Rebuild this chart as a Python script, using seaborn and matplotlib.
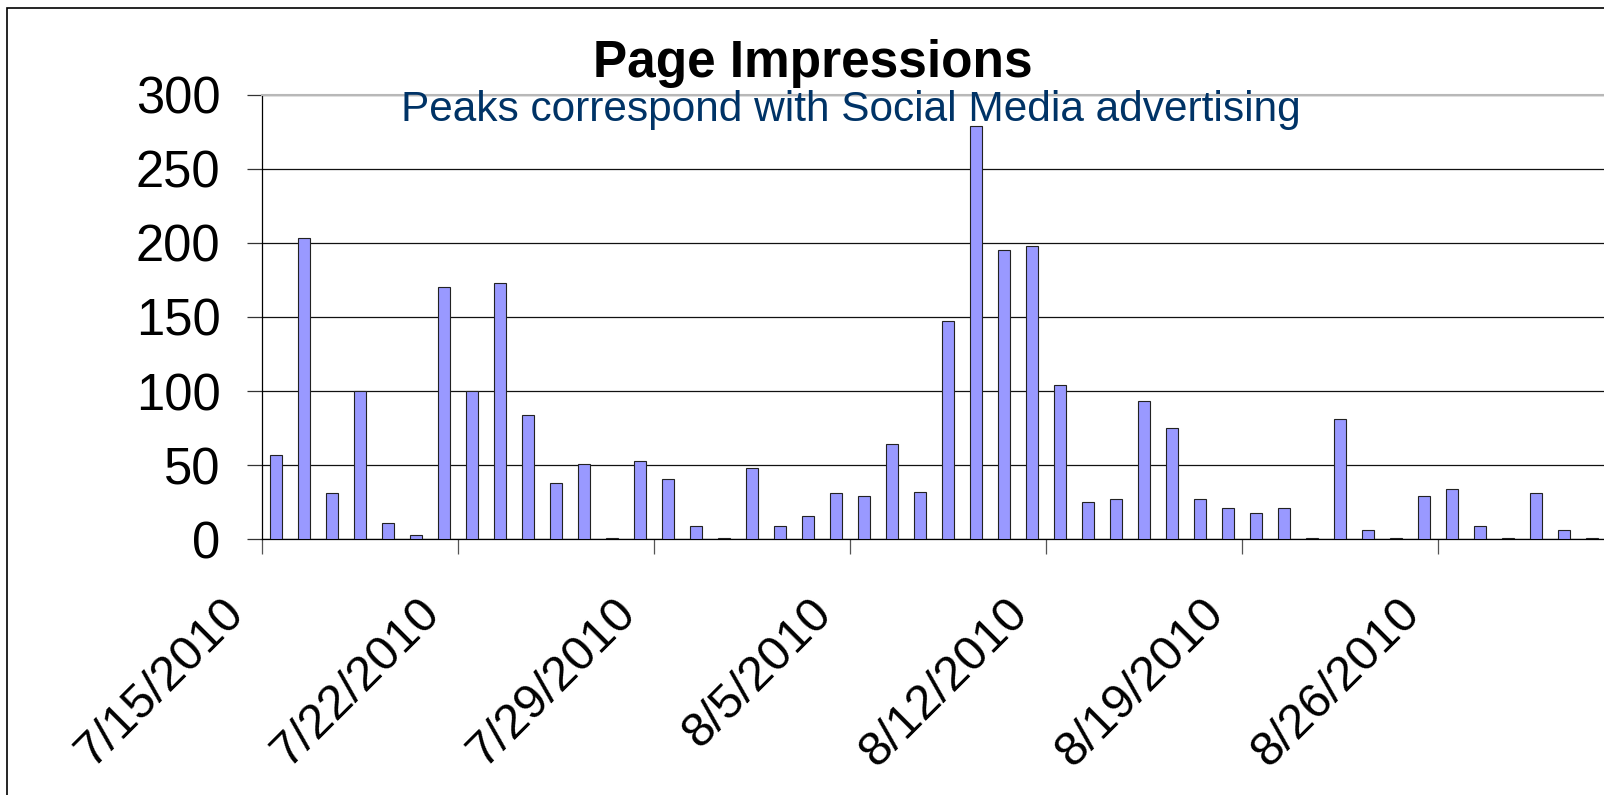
""" Page impressions bar chart, daily values July-August 2010 """
import matplotlib

matplotlib.use("Agg")
import matplotlib.pyplot as plt
import matplotlib.transforms as mtransforms
from matplotlib.patches import Rectangle
import pandas as pd
import seaborn as sns

# Daily page impressions, 7/15/2010 .. 8/31/2010
days = [
    "7/15", "7/16", "7/17", "7/18", "7/19", "7/20", "7/21", "7/22",
    "7/23", "7/24", "7/25", "7/26", "7/27", "7/28", "7/29", "7/30",
    "7/31", "8/1", "8/2", "8/3", "8/4", "8/5", "8/6", "8/7",
    "8/8", "8/9", "8/10", "8/11", "8/12", "8/13", "8/14", "8/15",
    "8/16", "8/17", "8/18", "8/19", "8/20", "8/21", "8/22", "8/23",
    "8/24", "8/25", "8/26", "8/27", "8/28", "8/29", "8/30", "8/31",
]
impressions = [
    57, 203, 31, 100, 11, 3, 170, 100,
    173, 84, 38, 51, 1, 53, 41, 9,
    1, 48, 9, 16, 31, 29, 64, 32,
    147, 279, 195, 198, 104, 25, 27, 93,
    75, 27, 21, 18, 21, 1, 81, 6,
    1, 29, 34, 9, 1, 31, 6, 1,
]
week_labels = ["7/15/2010", "7/22/2010", "7/29/2010", "8/5/2010",
               "8/12/2010", "8/19/2010", "8/26/2010"]
y_ticks = [0, 50, 100, 150, 200, 250, 300]

df = pd.DataFrame({"day": days, "impressions": impressions})

sns.set_style("white")
plt.rcParams["font.family"] = ["Liberation Sans", "DejaVu Sans"]

W, H = 1604, 795
fig = plt.figure(figsize=(W / 100, H / 100), dpi=100)
# plot area in pixels: left 262, top 95, bottom 539, runs off the right edge
ax = fig.add_axes([262 / W, 1 - 539.3 / H, (W - 262) / W, (539.3 - 94.7) / H])

sns.barplot(
    data=df, x="day", y="impressions", ax=ax,
    color="#9999ff", saturation=1, width=0.42,
    edgecolor="#222222", linewidth=0.8, zorder=3,
)

ax.set_ylim(0, 300)
ax.set_yticks(y_ticks)
ax.set_xlim(-0.5, -0.5 + (W - 262) / 28.0)

# week ticks sit on day boundaries
week_pos = [i - 0.5 for i in range(0, len(days), 7)]
ax.set_xticks(week_pos)
ax.set_xticklabels(week_labels, rotation=45, ha="right", va="top")
ax.set_xlabel("")
ax.set_ylabel("")

ax.yaxis.grid(True, color="#111111", linewidth=0.9, zorder=0)
ax.set_axisbelow(True)

ax.spines["right"].set_visible(False)
ax.spines["top"].set_color("#b8b8b8")
ax.spines["top"].set_linewidth(1.5)
for s in ["left", "bottom"]:
    ax.spines[s].set_color("black")
    ax.spines[s].set_linewidth(0.9)

ax.tick_params(axis="y", direction="out", length=10.8, width=0.9,
               color="#333333", pad=19, labelsize=36.5, left=True,
               labelcolor="black")
ax.tick_params(axis="x", direction="out", length=10.8, width=0.9,
               color="#555555", pad=26, labelsize=35, bottom=True,
               labelcolor="black")

# shift the rotated date labels a bit left of their tick
offset = mtransforms.ScaledTranslation(-0.09, 0, fig.dpi_scale_trans)
for lab in ax.get_xticklabels():
    lab.set_transform(lab.get_transform() + offset)

fig.text(813 / W, 1 - 76.7 / H, "Page Impressions", ha="center",
         va="baseline", fontsize=37, weight="bold", color="black")
fig.text(851 / W, 1 - 121 / H, "Peaks correspond with Social Media advertising",
         ha="center", va="baseline", fontsize=30.5, color="#003366", zorder=5)

# chart border (cropped on right and bottom)
fig.patches.append(Rectangle((7 / W, -0.2), 1.5, 1.2 - 7.5 / H,
                             transform=fig.transFigure, fill=False,
                             edgecolor="black", linewidth=1.2))

fig.savefig("out.png", dpi=100)
plt.close(fig)
